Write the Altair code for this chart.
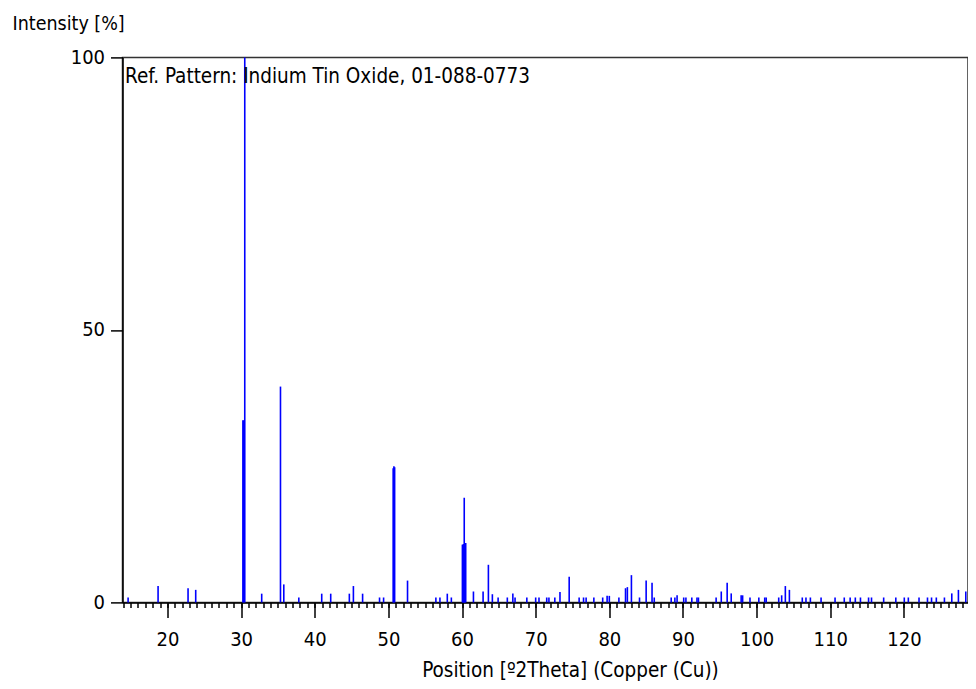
import altair as alt
import pandas as pd

# Reference pattern lines: position [°2Theta] and relative intensity [%]
positions = [
    14.66, 18.73, 22.8, 23.84, 30.25, 30.35, 30.5, 32.8, 35.35, 35.8,
    37.84, 40.95, 42.17, 44.7, 45.25, 46.5, 48.8, 49.35, 50.65, 50.75,
    50.85, 52.6, 56.45, 57.0, 58.0, 58.55, 60.05, 60.15, 60.25, 60.3,
    60.4, 60.5, 61.55, 62.86, 63.58, 64.12, 64.9, 66.15, 66.9, 67.2,
    68.8, 70.0, 70.45, 71.5, 71.8, 72.6, 73.3, 74.55, 75.9, 76.5,
    76.85, 77.9, 79.1, 79.7, 80.0, 81.3, 82.2, 82.45, 83.0, 84.1,
    85.0, 85.8, 86.1, 88.4, 88.9, 89.2, 90.1, 90.4, 91.2, 91.9,
    92.1, 94.5, 95.2, 96.0, 96.55, 97.9, 98.1, 99.1, 100.3, 101.1,
    101.3, 103.0, 103.4, 103.9, 104.45, 106.2, 106.7, 107.3, 108.75, 110.65,
    111.9, 112.7, 113.4, 114.1, 115.2, 115.6, 117.25, 118.9, 120.05, 120.6,
    122.05, 123.2, 123.75, 124.4, 125.5, 126.5, 127.4, 128.4,
]
intensities = [
    0.9, 3.0, 2.6, 2.3, 33.4, 33.4, 100.0, 1.6, 39.6, 3.3,
    0.9, 1.6, 1.6, 1.6, 3.0, 1.6, 0.9, 0.9, 24.6, 25.0,
    24.8, 4.0, 0.9, 0.9, 1.6, 0.9, 10.6, 10.6, 10.7, 19.2,
    10.9, 10.9, 2.0, 2.0, 6.9, 1.5, 0.9, 0.9, 1.65, 0.9,
    0.9, 0.9, 0.9, 0.9, 0.9, 0.9, 1.9, 4.7, 0.9, 0.9,
    0.9, 0.9, 0.9, 1.2, 1.2, 0.9, 2.6, 2.8, 5.0, 0.9,
    4.0, 3.6, 0.9, 0.9, 0.9, 1.3, 0.9, 0.9, 0.9, 0.9,
    0.9, 0.9, 2.0, 3.6, 1.65, 1.3, 1.3, 0.9, 0.9, 0.9,
    0.9, 0.9, 1.3, 3.0, 2.3, 0.9, 0.9, 0.9, 0.9, 0.9,
    0.9, 0.9, 0.9, 0.9, 0.9, 0.9, 0.9, 0.9, 0.9, 0.9,
    0.9, 0.9, 0.9, 0.9, 0.9, 1.65, 2.3, 2.0,
]

x_major = [20, 30, 40, 50, 60, 70, 80, 90, 100, 110, 120]
x_minor = list(range(14, 129))
y_ticks = [0, 50, 100]
x_domain = [13.9, 128.7]

ref_label = "Ref. Pattern: Indium Tin Oxide, 01-088-0773"
x_title = "Position [º2Theta] (Copper (Cu))"
y_title = "Intensity [%]"

FONT = "DejaVu Sans Condensed, Liberation Sans Narrow, sans-serif"

df = pd.DataFrame({"pos": positions, "I": intensities})
minor_df = pd.DataFrame({"m": x_minor})

peaks = alt.Chart(df).mark_rule(color="#0000ff", strokeWidth=1.6).encode(
    x=alt.X(
        "pos:Q",
        scale=alt.Scale(domain=x_domain, nice=False, zero=False),
        axis=alt.Axis(
            orient="bottom",
            values=x_major,
            tickSize=15,
            labelPadding=12,
            labelFontSize=20,
            title=x_title,
            titleFontSize=20.5,
            titleAlign="center",
            titleBaseline="alphabetic",
            titleX=447.5,
            titleY=74,
        ),
    ),
    y=alt.Y(
        "I:Q",
        scale=alt.Scale(domain=[0, 100], nice=False),
        axis=alt.Axis(
            values=y_ticks,
            tickSize=12,
            labelPadding=6,
            labelFontSize=20,
            title=y_title,
            titleFontSize=19.5,
            titleAngle=0,
            titleAlign="left",
            titleBaseline="alphabetic",
            titleX=-110.5,
            titleY=-28,
        ),
    ),
    y2=alt.datum(0),
)

minor = alt.Chart(minor_df).mark_rule(opacity=0).encode(
    x=alt.X(
        "m:Q",
        scale=alt.Scale(domain=x_domain, nice=False, zero=False),
        axis=alt.Axis(
            orient="bottom",
            values=x_minor,
            tickSize=5,
            labels=False,
            domain=False,
            title=None,
        ),
    )
)

label = alt.Chart(pd.DataFrame({"t": [ref_label]})).mark_text(
    align="left", baseline="alphabetic", fontSize=20.5, font=FONT, color="black"
).encode(x=alt.value(2.5), y=alt.value(26), text="t:N")

chart = (
    alt.layer(peaks, minor, label)
    .resolve_axis(x="independent")
    .properties(
        width=845.5,
        height=545,
        autosize=alt.AutoSizeParams(type="none"),
        padding={"left": 114.5, "top": 49.4, "right": 0, "bottom": 80},
    )
    .configure_view(stroke="#333333", strokeWidth=1.5)
    .configure_axis(
        labelFont=FONT,
        titleFont=FONT,
        labelColor="black",
        titleColor="black",
        tickColor="black",
        domainColor="black",
        domainWidth=1.5,
        tickWidth=1.5,
        grid=False,
        titleFontWeight="normal",
    )
)

chart.save("out.html", embed_options={"renderer": "svg", "actions": False})
